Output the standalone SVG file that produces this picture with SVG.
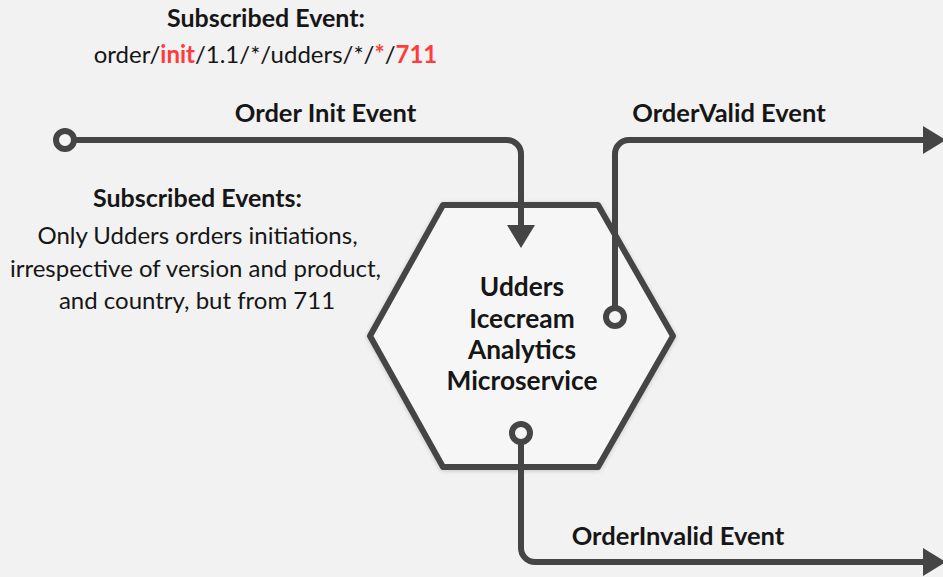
<svg xmlns="http://www.w3.org/2000/svg" width="943" height="577" viewBox="0 0 943 577">
  <style>
    .bg { fill: #f2f2f2; }
    .wire { fill: none; stroke: #454545; stroke-width: 6; }
    .port { fill: #f4f4f4; stroke: #454545; stroke-width: 6; }
    .hex { fill: #f6f6f6; stroke: #454545; stroke-width: 6; stroke-linejoin: round; }
    text { font-family: Lato, "Open Sans", "Liberation Sans", sans-serif; fill: #161616; text-anchor: middle; }
    .b { font-weight: 700; }
    .label { font-size: 25.5px; font-weight: 700; }
    .red { fill: #ff3b3b; font-weight: 700; }
  </style>
  <defs>
    <marker id="arrow" markerUnits="userSpaceOnUse" viewBox="0 0 23 28" markerWidth="23" markerHeight="28" refX="13" refY="14" orient="auto">
      <path d="M0,0 L23,14 L0,28 Z" fill="#454545"/>
    </marker>
    <filter id="soft" x="-10%" y="-10%" width="120%" height="120%">
      <feDropShadow dx="0" dy="1" stdDeviation="2" flood-color="#000" flood-opacity="0.18"/>
    </filter>
  </defs>

  <rect class="bg" x="0" y="0" width="943" height="577"/>

  <!-- service node -->
  <g id="service">
    <polygon class="hex" filter="url(#soft)" points="443,205 598,205 673,336 598,467 443,467 370,336"/>
    <text class="b" font-size="26.3" x="522" y="296">Udders</text>
    <text class="b" font-size="26.3" x="522" y="328">Icecream</text>
    <text class="b" font-size="26.3" x="522" y="359">Analytics</text>
    <text class="b" font-size="26.3" x="522" y="390">Microservice</text>
  </g>

  <!-- connectors -->
  <g id="connectors">
    <path id="order-init" class="wire" d="M65,140 H507 A14,14 0 0 1 521,154 V238" marker-end="url(#arrow)"/>
    <circle class="port" cx="65" cy="140" r="9"/>
    <path id="order-valid" class="wire" d="M615,317 V154 A14,14 0 0 1 629,140 H936" marker-end="url(#arrow)"/>
    <circle class="port" cx="615" cy="317" r="9"/>
    <path id="order-invalid" class="wire" d="M521,433 V548 A14,14 0 0 0 535,562 H936" marker-end="url(#arrow)"/>
    <circle class="port" cx="521" cy="433" r="9"/>
    <text class="label" x="325.5" y="122">Order Init Event</text>
    <text class="label" x="729" y="122">OrderValid Event</text>
    <text class="label" x="678" y="545">OrderInvalid Event</text>
  </g>

  <!-- subscription notes -->
  <g id="subscription-topic">
    <text class="b" font-size="25" x="266" y="27">Subscribed Event:</text>
    <text font-size="24" x="265.5" y="63">order/<tspan class="red">init</tspan>/1.1/*/udders/*/<tspan class="red">*</tspan>/<tspan class="red">711</tspan></text>
  </g>
  <g id="subscription-desc">
    <text class="b" font-size="25" x="197.5" y="207">Subscribed Events:</text>
    <text font-size="24" x="197.5" y="244">Only Udders orders initiations,</text>
    <text font-size="24" x="195.5" y="277">irrespective of version and product,</text>
    <text font-size="24" x="197" y="309">and country, but from 711</text>
  </g>
</svg>
